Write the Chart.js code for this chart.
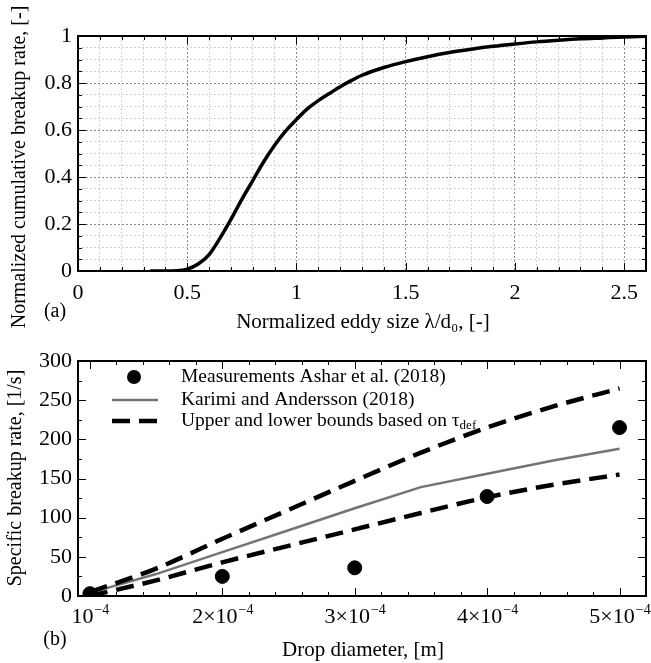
<!DOCTYPE html>
<html>
<head>
<meta charset="utf-8">
<script src="https://cdn.jsdelivr.net/npm/chart.js@4.4.1/dist/chart.umd.min.js"></script>
<style>
  body { margin: 0; background: #fff; }
  canvas { display: block; }
</style>
</head>
<body>
<canvas id="cdfChart" width="651" height="345"></canvas>
<canvas id="rateChart" width="651" height="318"></canvas>
<script>
// (a) cumulative breakup rate vs normalized eddy size
const eddySize = [0.33, 0.4, 0.45, 0.5, 0.55, 0.6, 0.65, 0.7, 0.75, 0.8, 0.85, 0.9, 0.95, 1.0,
  1.05, 1.1, 1.15, 1.2, 1.25, 1.3, 1.4, 1.5, 1.6, 1.7, 1.8, 1.9, 2.0, 2.1, 2.2, 2.3, 2.4, 2.5, 2.6];
const cumulativeRate = [0, 0, 0.001, 0.008, 0.03, 0.07, 0.14, 0.22, 0.305, 0.385, 0.465, 0.535, 0.595, 0.645,
  0.69, 0.725, 0.755, 0.784, 0.81, 0.833, 0.866, 0.891, 0.912, 0.93, 0.944, 0.956, 0.966, 0.975, 0.982, 0.988, 0.992, 0.996, 0.999];

// (b) specific breakup rate vs drop diameter
const measuredDiameter = [1e-4, 2e-4, 3e-4, 4e-4, 5e-4];
const measuredRate = [3, 25, 36, 127, 215];
const modelDiameter = [1e-4, 1.5e-4, 2e-4, 2.5e-4, 3e-4, 3.5e-4, 4e-4, 4.5e-4, 5e-4];
const karimiRate = [4, 28, 56, 84, 112, 139, 156, 173, 188];
const upperBound = [5, 35, 73, 110, 147, 183, 215, 242, 265];
const lowerBound = [0, 20, 43, 64, 85, 106, 126, 142, 155];

// tick positions and labels
const eddyTicks = Array.from({ length: 27 }, (_, i) => i / 10);
const cdfTicks = Array.from({ length: 21 }, (_, i) => i / 20);
const diameterTicks = Array.from({ length: 21 }, (_, i) => (10 + i * 2) / 1e5);
const diameterLabelValues = [1e-4, 2e-4, 3e-4, 4e-4, 5e-4];
const diameterLabelBase = ['10', '2\u00D710', '3\u00D710', '4\u00D710', '5\u00D710'];
const diameterLabelExp = '\u22124';
const rateTicks = Array.from({ length: 13 }, (_, i) => i * 25);

const serif = "'Liberation Serif', 'Times New Roman', serif";
const isMultiple = (v, step) => Math.abs(v / step - Math.round(v / step)) < 1e-6;
const toPoints = (xs, ys) => xs.map((x, i) => ({ x: x, y: ys[i] }));

// frame, inward ticks, axis titles and panel label
const framePlugin = {
  id: 'frame',
  afterDraw(chart, args, opts) {
    const { ctx, chartArea: a, scales: { x, y } } = chart;
    ctx.save();
    ctx.strokeStyle = '#000';
    ctx.lineWidth = 1;
    ctx.beginPath();
    x.ticks.forEach(t => {
      const px = Math.round(x.getPixelForValue(t.value)) + 0.5;
      const len = isMultiple(t.value, opts.xMajor) ? 8 : 4;
      ctx.moveTo(px, a.bottom); ctx.lineTo(px, a.bottom - len);
      ctx.moveTo(px, a.top); ctx.lineTo(px, a.top + len);
    });
    y.ticks.forEach(t => {
      const py = Math.round(y.getPixelForValue(t.value)) + 0.5;
      const len = isMultiple(t.value, opts.yMajor) ? 8 : 4;
      ctx.moveTo(a.left, py); ctx.lineTo(a.left + len, py);
      ctx.moveTo(a.right, py); ctx.lineTo(a.right - len, py);
    });
    ctx.stroke();
    ctx.lineWidth = 2;
    ctx.strokeRect(a.left, a.top, a.right - a.left, a.bottom - a.top);

    ctx.fillStyle = '#000';
    ctx.textAlign = 'center';
    ctx.textBaseline = 'middle';
    ctx.font = '21px ' + serif;
    ctx.fillText(opts.xTitle, opts.xTitlePos[0], opts.xTitlePos[1]);
    ctx.font = '20px ' + serif;
    ctx.fillText(opts.panel, opts.panelPos[0], opts.panelPos[1]);
    ctx.translate(opts.yTitlePos[0], opts.yTitlePos[1]);
    ctx.rotate(-Math.PI / 2);
    ctx.fillText(opts.yTitle, 0, 0);
    ctx.restore();
  }
};

// x tick labels of panel (b) with a real superscript exponent
const powerLabels = {
  id: 'powerLabels',
  afterDraw(chart) {
    const { ctx, scales: { x } } = chart;
    ctx.save();
    ctx.fillStyle = '#000';
    ctx.textBaseline = 'alphabetic';
    ctx.textAlign = 'left';
    diameterLabelValues.forEach((v, i) => {
      ctx.font = '22px ' + serif;
      const wBase = ctx.measureText(diameterLabelBase[i]).width;
      ctx.font = '14px ' + serif;
      const wExp = ctx.measureText(diameterLabelExp).width;
      const left = x.getPixelForValue(v) - (wBase + wExp) / 2;
      ctx.font = '22px ' + serif;
      ctx.fillText(diameterLabelBase[i], left, 278);
      ctx.font = '14px ' + serif;
      ctx.fillText(diameterLabelExp, left + wBase + 1, 269);
    });
    ctx.restore();
  }
};

// legend for panel (b), drawn by hand for the subscript
const boundsLegend = {
  id: 'boundsLegend',
  afterDraw(chart) {
    const ctx = chart.ctx;
    const sets = chart.data.datasets;
    const rows = [32, 55, 76];
    ctx.save();
    ctx.font = '19.5px ' + serif;
    ctx.textBaseline = 'middle';
    ctx.fillStyle = '#000';

    ctx.beginPath();
    ctx.arc(134, rows[0], 7, 0, Math.PI * 2);
    ctx.fill();
    ctx.fillText(sets[0].label, 181, rows[0]);

    ctx.strokeStyle = sets[1].borderColor;
    ctx.lineWidth = sets[1].borderWidth;
    ctx.beginPath();
    ctx.moveTo(112, rows[1]); ctx.lineTo(158, rows[1]);
    ctx.stroke();
    ctx.fillText(sets[1].label, 181, rows[1]);

    ctx.strokeStyle = '#000';
    ctx.lineWidth = sets[2].borderWidth;
    ctx.setLineDash(sets[2].borderDash);
    ctx.beginPath();
    ctx.moveTo(112, rows[2]); ctx.lineTo(158, rows[2]);
    ctx.stroke();
    const txt = 'Upper and lower bounds based on \u03C4';
    ctx.fillText(txt, 181, rows[2]);
    const w = ctx.measureText(txt).width;
    ctx.font = '13px ' + serif;
    ctx.fillText('def', 181 + w, rows[2] + 5);
    ctx.restore();
  }
};

const fixWidth = w => scale => { scale.width = w; scale.paddingTop = 0; scale.paddingBottom = 0; };
const fixHeight = h => scale => { scale.height = h; scale.paddingLeft = 0; scale.paddingRight = 0; };

new Chart(document.getElementById('cdfChart'), {
  type: 'scatter',
  data: {
    datasets: [{
      data: toPoints(eddySize, cumulativeRate),
      showLine: true,
      borderColor: '#000',
      borderWidth: 3.5,
      pointRadius: 0,
      cubicInterpolationMode: 'monotone'
    }]
  },
  options: {
    responsive: false,
    animation: false,
    layout: { autoPadding: false, padding: { left: 0, right: 5, top: 36, bottom: 0 } },
    plugins: {
      legend: { display: false },
      tooltip: { enabled: false },
      frame: {
        xMajor: 0.5, yMajor: 0.2,
        xTitle: 'Normalized eddy size \u03BB/d\u2080, [-]', xTitlePos: [363, 322],
        yTitle: 'Normalized cumulative breakup rate, [-]', yTitlePos: [20, 167],
        panel: '(a)', panelPos: [55, 312]
      }
    },
    scales: {
      x: {
        type: 'linear', min: 0, max: 2.6,
        afterBuildTicks: s => { s.ticks = eddyTicks.map(v => ({ value: v })); },
        afterFit: fixHeight(74),
        border: { display: false, dash: [2, 2] },
        grid: {
          drawTicks: false,
          color: c => isMultiple(c.tick.value, 0.5) ? '#8a8a8a' : '#d2d2d2'
        },
        ticks: {
          autoSkip: false, maxRotation: 0, padding: 9, color: '#000',
          font: { family: serif, size: 22 },
          callback: v => isMultiple(v, 0.5) ? String(+v.toFixed(1)) : ''
        }
      },
      y: {
        type: 'linear', min: 0, max: 1,
        afterBuildTicks: s => { s.ticks = cdfTicks.map(v => ({ value: v })); },
        afterFit: fixWidth(78),
        border: { display: false, dash: [2, 2] },
        grid: {
          drawTicks: false,
          color: c => isMultiple(c.tick.value, 0.2) ? '#8a8a8a' : '#d2d2d2'
        },
        ticks: {
          autoSkip: false, padding: 6, color: '#000',
          font: { family: serif, size: 22 },
          callback: v => isMultiple(v, 0.2) ? String(+v.toFixed(1)) : ''
        }
      }
    }
  },
  plugins: [framePlugin]
});

new Chart(document.getElementById('rateChart'), {
  type: 'scatter',
  data: {
    datasets: [{
      label: 'Measurements Ashar et al. (2018)',
      data: toPoints(measuredDiameter, measuredRate),
      pointRadius: 7,
      pointBackgroundColor: '#000',
      pointBorderColor: '#000',
      order: 0
    }, {
      label: 'Karimi and Andersson (2018)',
      data: toPoints(modelDiameter, karimiRate),
      showLine: true,
      borderColor: '#747474',
      borderWidth: 2.5,
      pointRadius: 0,
      order: 2
    }, {
      label: 'Upper and lower bounds based on \u03C4def',
      data: toPoints(modelDiameter, upperBound),
      showLine: true,
      borderColor: '#000',
      borderWidth: 4.5,
      borderDash: [18, 9],
      pointRadius: 0,
      cubicInterpolationMode: 'monotone',
      order: 1
    }, {
      label: 'lower',
      data: toPoints(modelDiameter, lowerBound),
      showLine: true,
      borderColor: '#000',
      borderWidth: 4.5,
      borderDash: [18, 9],
      pointRadius: 0,
      cubicInterpolationMode: 'monotone',
      order: 1
    }]
  },
  options: {
    responsive: false,
    animation: false,
    layout: { autoPadding: false, padding: { left: 0, right: 5, top: 16, bottom: 0 } },
    plugins: {
      legend: { display: false },
      tooltip: { enabled: false },
      frame: {
        xMajor: 1e-4, yMajor: 50,
        xTitle: 'Drop diameter, [m]', xTitlePos: [363, 305],
        yTitle: 'Specific breakup rate, [1/s]', yTitlePos: [16, 133],
        panel: '(b)', panelPos: [55, 295]
      }
    },
    scales: {
      x: {
        type: 'linear', min: 0.91e-4, max: 5.2e-4,
        afterBuildTicks: s => { s.ticks = diameterTicks.map(v => ({ value: v })); },
        afterFit: fixHeight(67),
        border: { display: false },
        grid: { display: false, drawTicks: false },
        ticks: { autoSkip: false, maxRotation: 0, callback: () => '' }
      },
      y: {
        type: 'linear', min: 0, max: 300,
        afterBuildTicks: s => { s.ticks = rateTicks.map(v => ({ value: v })); },
        afterFit: fixWidth(78),
        border: { display: false },
        grid: { display: false, drawTicks: false },
        ticks: {
          autoSkip: false, padding: 6, color: '#000',
          font: { family: serif, size: 22 },
          callback: v => v % 50 === 0 ? String(v) : ''
        }
      }
    }
  },
  plugins: [framePlugin, powerLabels, boundsLegend]
});
</script>
</body>
</html>
